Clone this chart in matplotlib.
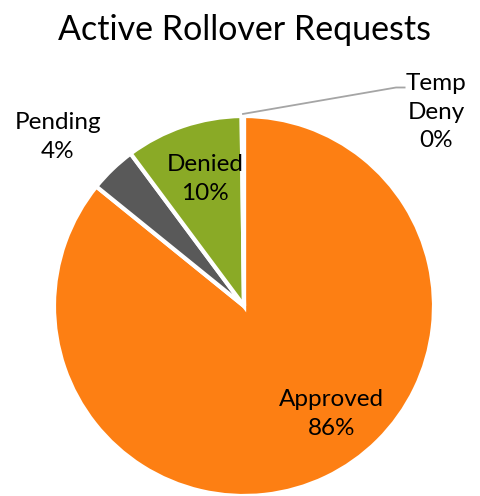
import matplotlib
matplotlib.use("Agg")
import matplotlib.pyplot as plt

categories = ["Approved", "Pending", "Denied", "Temp\nDeny"]
values = [86, 4, 10, 0.2]
colors = ["#FD7F13", "#595959", "#8AAA26", "#A5A5A5"]

plt.rcParams['font.family'] = ['Lato', 'DejaVu Sans']

fig = plt.figure(figsize=(4.8, 4.96), dpi=100)
W, H = 480, 496
cx, cy, r = 244, 306, 190
ax = fig.add_axes([(cx - r) / W, (H - cy - r) / H, 2 * r / W, 2 * r / H])
wedges, _ = ax.pie(values, colors=colors, startangle=90, counterclock=False,
                   radius=1, wedgeprops=dict(edgecolor="white", linewidth=3))
ax.set_xlim(-1, 1)
ax.set_ylim(-1, 1)
ax.set_aspect("equal")
ax.axis("off")

total = sum(values)
pcts = [round(v / total * 100) for v in values]
label_pos = [(0.46, -0.57), (-0.98, 0.89), (-0.205, 0.67), (1.01, 1.02)]
for cat, p, (x, y) in zip(categories, pcts, label_pos):
    ax.text(x, y, f"{cat}\n{p}%", ha="center", va="center", fontsize=17.5,
            linespacing=1.45, color="#000000", clip_on=False)

# leader line for Temp Deny
ax.plot([-0.01, 0.80, 0.85], [1.01, 1.15, 1.15], color="#A5A5A5", lw=1.3,
        clip_on=False, solid_capstyle="butt")

fig.text(cx / W, 1 - 30 / H, "Active Rollover Requests", ha="center", va="center",
         fontsize=24.5, color="#000000")

fig.savefig("out.png", dpi=100)
